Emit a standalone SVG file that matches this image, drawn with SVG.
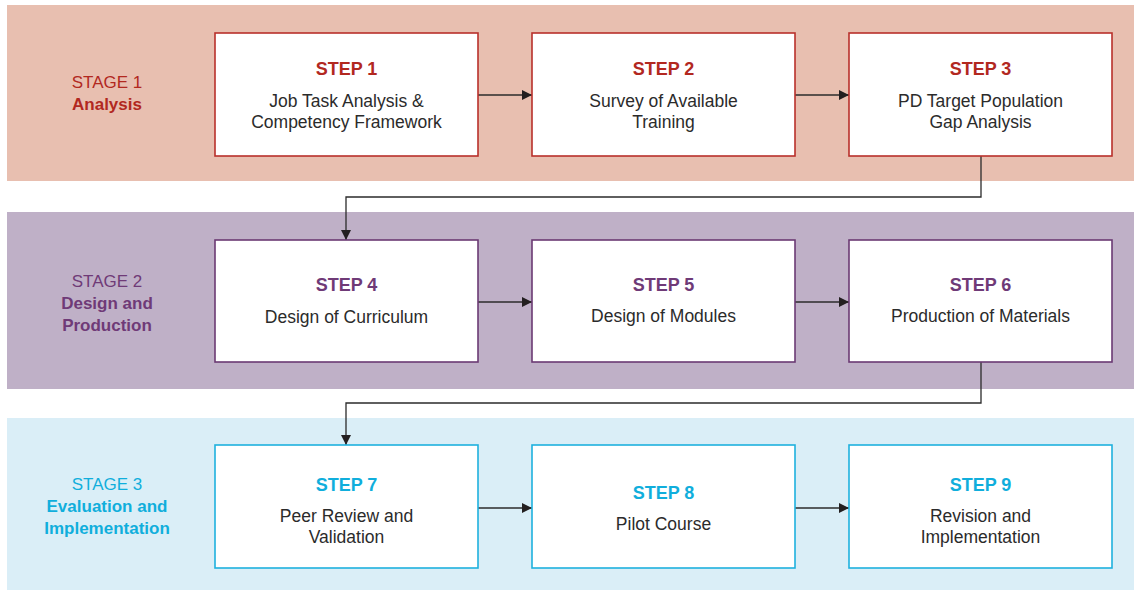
<svg xmlns="http://www.w3.org/2000/svg" width="1134" height="590" viewBox="0 0 1134 590">
  <defs>
    <marker id="arrow" viewBox="0 0 10 10" refX="10" refY="5" markerWidth="11" markerHeight="10" markerUnits="userSpaceOnUse" orient="auto">
      <path d="M0,0 L10,5 L0,10 z" fill="#231f20"/>
    </marker>
    <style>
      text { font-family: "Liberation Sans", Arial, sans-serif; text-anchor: middle; }
      .band1 { fill: #e8bfb0; }
      .band2 { fill: #bfb0c7; }
      .band3 { fill: #daeef7; }
      .box { fill: #ffffff; stroke-width: 1.6; }
      .s1 .box { stroke: #b8302b; }
      .s2 .box { stroke: #6b3a73; }
      .s3 .box { stroke: #1eb1de; }
      .step { font-size: 18px; font-weight: bold; }
      .s1 .step, .s1 .stage { fill: #b2281f; }
      .s2 .step, .s2 .stage { fill: #6f3a77; }
      .s3 .step, .s3 .stage { fill: #10aedc; }
      .body { font-size: 17.5px; fill: #2b2b2b; }
      .stage { font-size: 17px; }
      .stage.b { font-weight: bold; }
      .conn { fill: none; stroke: #2b2b2b; stroke-width: 1.3; marker-end: url(#arrow); }
    </style>
  </defs>

  <!-- stage bands -->
  <rect class="band1" x="7" y="5" width="1127" height="176"/>
  <rect class="band2" x="7" y="212" width="1127" height="177"/>
  <rect class="band3" x="7" y="418" width="1127" height="172"/>

  <!-- stage labels -->
  <g id="stage1" class="s1">
    <text class="stage" x="107" y="88">STAGE 1</text>
    <text class="stage b" x="107" y="110">Analysis</text>
  </g>
  <g id="stage2" class="s2">
    <text class="stage" x="107" y="287">STAGE 2</text>
    <text class="stage b" x="107" y="309">Design and</text>
    <text class="stage b" x="107" y="331">Production</text>
  </g>
  <g id="stage3" class="s3">
    <text class="stage" x="107" y="490">STAGE 3</text>
    <text class="stage b" x="107" y="512">Evaluation and</text>
    <text class="stage b" x="107" y="534">Implementation</text>
  </g>

  <!-- connectors -->
  <g id="connectors">
    <line class="conn" x1="478" y1="95" x2="532" y2="95"/>
    <line class="conn" x1="795" y1="95" x2="849" y2="95"/>
    <path class="conn" d="M981,156 V197 H346 V240"/>
    <line class="conn" x1="478" y1="302" x2="532" y2="302"/>
    <line class="conn" x1="795" y1="302" x2="849" y2="302"/>
    <path class="conn" d="M981,362 V403 H346 V445"/>
    <line class="conn" x1="478" y1="508" x2="532" y2="508"/>
    <line class="conn" x1="795" y1="508" x2="849" y2="508"/>
  </g>

  <!-- stage 1 steps -->
  <g id="step1" class="s1">
    <rect class="box" x="215" y="33" width="263" height="123"/>
    <text class="step" x="346.5" y="75">STEP 1</text>
    <text class="body" x="346.5" y="107">Job Task Analysis &amp;</text>
    <text class="body" x="346.5" y="128">Competency Framework</text>
  </g>
  <g id="step2" class="s1">
    <rect class="box" x="532" y="33" width="263" height="123"/>
    <text class="step" x="663.5" y="75">STEP 2</text>
    <text class="body" x="663.5" y="107">Survey of Available</text>
    <text class="body" x="663.5" y="128">Training</text>
  </g>
  <g id="step3" class="s1">
    <rect class="box" x="849" y="33" width="263" height="123"/>
    <text class="step" x="980.5" y="75">STEP 3</text>
    <text class="body" x="980.5" y="107">PD Target Population</text>
    <text class="body" x="980.5" y="128">Gap Analysis</text>
  </g>

  <!-- stage 2 steps -->
  <g id="step4" class="s2">
    <rect class="box" x="215" y="240" width="263" height="122"/>
    <text class="step" x="346.5" y="291">STEP 4</text>
    <text class="body" x="346.5" y="323">Design of Curriculum</text>
  </g>
  <g id="step5" class="s2">
    <rect class="box" x="532" y="240" width="263" height="122"/>
    <text class="step" x="663.5" y="291">STEP 5</text>
    <text class="body" x="663.5" y="322">Design of Modules</text>
  </g>
  <g id="step6" class="s2">
    <rect class="box" x="849" y="240" width="263" height="122"/>
    <text class="step" x="980.5" y="291">STEP 6</text>
    <text class="body" x="980.5" y="322">Production of Materials</text>
  </g>

  <!-- stage 3 steps -->
  <g id="step7" class="s3">
    <rect class="box" x="215" y="445" width="263" height="123"/>
    <text class="step" x="346.5" y="491">STEP 7</text>
    <text class="body" x="346.5" y="522">Peer Review and</text>
    <text class="body" x="346.5" y="543">Validation</text>
  </g>
  <g id="step8" class="s3">
    <rect class="box" x="532" y="445" width="263" height="123"/>
    <text class="step" x="663.5" y="499">STEP 8</text>
    <text class="body" x="663.5" y="530">Pilot Course</text>
  </g>
  <g id="step9" class="s3">
    <rect class="box" x="849" y="445" width="263" height="123"/>
    <text class="step" x="980.5" y="491">STEP 9</text>
    <text class="body" x="980.5" y="522">Revision and</text>
    <text class="body" x="980.5" y="543">Implementation</text>
  </g>
</svg>
